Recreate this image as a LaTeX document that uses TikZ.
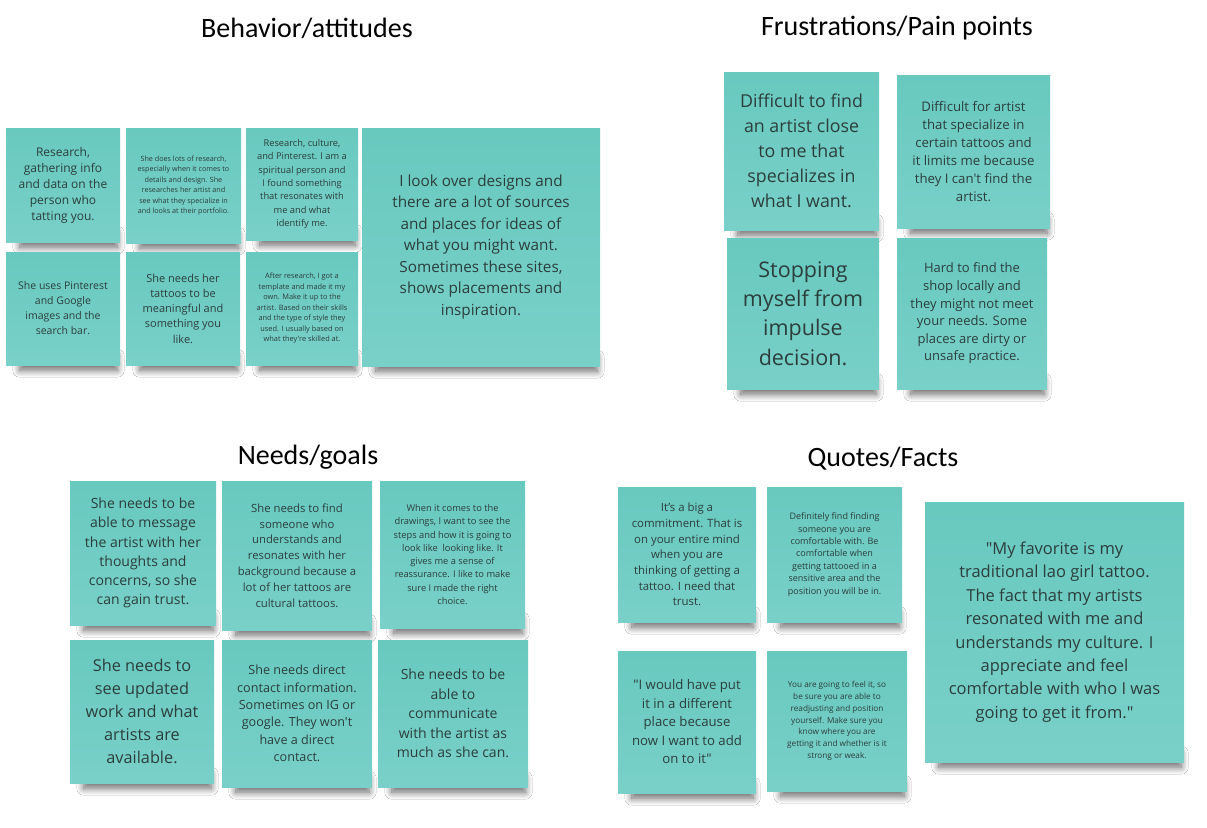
\documentclass[tikz,border=0pt]{standalone}
\usepackage{fontspec}
\setmainfont{Open Sans}[Ligatures=TeXOff]
\newfontfamily\titlefont{Carlito}
\usetikzlibrary{shadows.blur}
\pgfdeclarelayer{bg}
\pgfsetlayers{bg,main}
\definecolor{notetop}{HTML}{68C9BF}
\definecolor{notebot}{HTML}{79D0C9}
\definecolor{notetext}{HTML}{2C3E3C}
\newcommand{\fs}[2]{\fontsize{#1}{#2}\selectfont}
\begin{document}
\begin{tikzpicture}[x=1pt,y=-1pt,
  note/.style={draw=none, top color=notetop, bottom color=notebot,
    text=notetext, align=center, inner sep=2pt},
  shade base/.style={draw=none,
    blur shadow={shadow xshift=0pt, shadow yshift=-7pt, shadow blur radius=7pt, shadow blur steps=12, shadow opacity=60}},
  title/.style={font=\titlefont\fontsize{28}{32}\selectfont, text=black}]
\useasboundingbox (0,0) rectangle (1207,827);

% Titles
\node[title] (tb) at (307,28) {Behavior/attitudes};
\node[title] (tf) at (897,28) {Frustrations/Pain points};
\node[title] (tn) at (308,457) {Needs/goals};
\node[title] (tq) at (883,459) {Quotes/Facts};

% Behavior/attitudes
\node[note, minimum width=114, minimum height=114, font=\fs{12}{16}] (b1) at (63,185)
  {Research,\\gathering info\\and data on the\\person who\\tatting you.};
\node[note, minimum width=115, minimum height=115, font=\fs{7.2}{10.5}] (b2) at (183.5,185.5)
  {She does lots of research,\\especially when it comes to\\details and design. She\\researches her artist and\\see what they specialize in\\and looks at their portfolio.};
\node[note, minimum width=112, minimum height=112, font=\fs{9.3}{13.4}] (b3) at (302,184)
  {Research, culture,\\and Pinterest. I am a\\spiritual person and\\I found something\\that resonates with\\me and what\\identify me.};
\node[note, minimum width=114, minimum height=113, font=\fs{10.5}{15}] (b4) at (63,308.5)
  {She uses Pinterest\\and Google\\images and the\\search bar.};
\node[note, minimum width=114, minimum height=113, font=\fs{11}{15.3}] (b5) at (183,308.5)
  {She needs her\\tattoos to be\\meaningful and\\something you\\like.};
\node[note, minimum width=112, minimum height=113, font=\fs{7.4}{10.5}] (b6) at (302,308.5)
  {After research, I got a\\template and made it my\\own. Make it up to the\\artist. Based on their skills\\and the type of style they\\used. I usually based on\\what they're skilled at.};
\node[note, minimum width=238, minimum height=238, font=\fs{15.3}{21.5}] (b7) at (481,247)
  {I look over designs and\\there are a lot of sources\\and places for ideas of\\what you might want.\\Sometimes these sites,\\shows placements and\\inspiration.};

% Frustrations/Pain points
\node[note, minimum width=155, minimum height=158, font=\fs{17.8}{25}] (f1) at (801.5,151)
  {Difficult to find\\an artist close\\to me that\\specializes in\\what I want.};
\node[note, minimum width=153, minimum height=153, font=\fs{13.2}{18}] (f2) at (973.5,151.5)
  {Difficult for artist\\that specialize in\\certain tattoos and\\it limits me because\\they I can't find the\\artist.};
\node[note, minimum width=152, minimum height=151, font=\fs{21.5}{29.3}] (f3) at (803,313.5)
  {Stopping\\myself from\\impulse\\decision.};
\node[note, minimum width=150, minimum height=151, font=\fs{13}{17.6}] (f4) at (972,313.5)
  {Hard to find the\\shop locally and\\they might not meet\\your needs. Some\\places are dirty or\\unsafe practice.};

% Needs/goals
\node[note, minimum width=146, minimum height=144, font=\fs{14}{19.2}] (n1) at (143,553)
  {She needs to be\\able to message\\the artist with her\\thoughts and\\concerns, so she\\can gain trust.};
\node[note, minimum width=150, minimum height=149, font=\fs{11.3}{15.8}] (n2) at (297,555.5)
  {She needs to find\\someone who\\understands and\\resonates with her\\background because a\\lot of her tattoos are\\cultural tattoos.};
\node[note, minimum width=145, minimum height=147, font=\fs{9.3}{13.3}] (n3) at (452.5,554.5)
  {When it comes to the\\drawings, I want to see the\\steps and how it is going to\\look like \ looking like. It\\gives me a sense of\\reassurance. I like to make\\sure I made the right\\choice.};
\node[note, minimum width=144, minimum height=143, font=\fs{16.3}{22.8}] (n4) at (142,711.5)
  {She needs to\\see updated\\work and what\\artists are\\available.};
\node[note, minimum width=150, minimum height=147, font=\fs{12.6}{17.4}] (n5) at (297,713.5)
  {She needs direct\\contact information.\\Sometimes on IG or\\google. They won't\\have a direct\\contact.};
\node[note, minimum width=150, minimum height=147, font=\fs{14}{19.5}] (n6) at (453,713.5)
  {She needs to be\\able to\\communicate\\with the artist as\\much as she can.};

% Quotes/Facts
\node[note, minimum width=138, minimum height=135, font=\fs{11.4}{15.7}] (q1) at (687,554.5)
  {It’s a big a\\commitment. That is\\on your entire mind\\when you are\\thinking of getting a\\tattoo. I need that\\trust.};
\node[note, minimum width=135, minimum height=135, font=\fs{9}{12.4}] (q2) at (834.5,554.5)
  {Definitely find finding\\someone you are\\comfortable with. Be\\comfortable when\\getting tattooed in a\\sensitive area and the\\position you will be in.};
\node[note, minimum width=138, minimum height=142, font=\fs{13.2}{18.5}] (q3) at (687,722)
  {"I would have put\\it in a different\\place because\\now I want to add\\on to it"};
\node[note, minimum width=140, minimum height=140, font=\fs{8.2}{11.8}] (q4) at (837,721)
  {You are going to feel it, so\\be sure you are able to\\readjusting and position\\yourself. Make sure you\\know where you are\\getting it and whether is it\\strong or weak.};
\node[note, minimum width=259, minimum height=260, font=\fs{16.5}{23.4}] (q5) at (1054.5,632)
  {"My favorite is my\\traditional lao girl tattoo.\\The fact that my artists\\resonated with me and\\understands my culture. I\\appreciate and feel\\comfortable with who I was\\going to get it from."};

% Shadows under the notes
\begin{pgfonlayer}{bg}
\fill[white] (0,0) rectangle (1207,827);
\foreach \n in {b1,b2,b3,b4,b5,b6,b7,f1,f2,f3,f4,n1,n2,n3,n4,n5,n6,q1,q2,q3,q4,q5}
  \path[shade base] ([xshift=14pt,yshift=16pt]\n.south west) rectangle ([xshift=-3pt,yshift=2pt]\n.south east);
\end{pgfonlayer}
\end{tikzpicture}
\end{document}
